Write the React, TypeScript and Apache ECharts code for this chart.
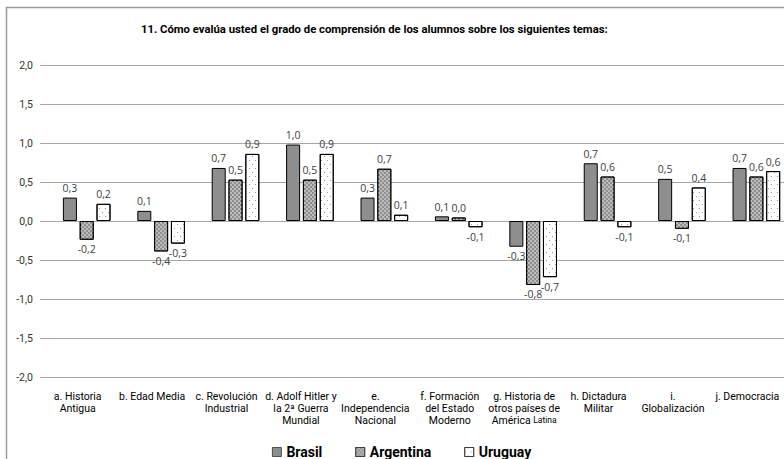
import React, { useEffect, useRef } from "react";
import * as echarts from "echarts";

const categories = [
  "a. Historia\nAntigua",
  "b. Edad Media",
  "c. Revolución\nIndustrial",
  "d. Adolf Hitler y\nla 2ª Guerra\nMundial",
  "e.\nIndependencia\nNacional",
  "f. Formación\ndel Estado\nModerno",
  "g. Historia de\notros países de\nAmérica {s|Latina}",
  "h. Dictadura\nMilitar",
  "i.\nGlobalización",
  "j. Democracia",
];

const brasil = [0.3, 0.13, 0.68, 0.98, 0.3, 0.06, -0.33, 0.74, 0.54, 0.68];
const argentina = [-0.24, -0.39, 0.53, 0.53, 0.67, 0.045, -0.82, 0.57, -0.1, 0.57];
const uruguay = [0.22, -0.29, 0.86, 0.86, 0.08, -0.08, -0.72, -0.08, 0.43, 0.64];

const yTicks = { min: -2, max: 2, interval: 0.5 };

const titleText =
  "11. Cómo evalúa usted el grado de comprensión de los alumnos sobre los siguientes temas:";

const condensed = "Roboto, 'Liberation Sans', sans-serif";
const labelFont = "'Open Sans', 'Noto Sans', sans-serif";

const fmt = (v: number) => v.toFixed(1).replace(".", ",").replace("-0,0", "0,0");

function mkData(arr: number[]) {
  return arr.map((v) => ({
    value: v,
    label: { position: v < 0 ? "bottom" : "top" },
  }));
}

export default function App() {
  const ref = useRef<HTMLDivElement>(null);
  useEffect(() => {
    if (!ref.current) return;
    const chart = echarts.init(ref.current, null, { renderer: "svg" });
    const labelCfg = {
      show: true,
      fontFamily: labelFont,
      fontSize: 10.5,
      color: "#404040",
      distance: 4,
      formatter: (p: any) => fmt(p.value),
    };
    const option = {
      animation: false,
      backgroundColor: "#ffffff",
      title: {
        text: titleText,
        left: 136,
        top: 19,
        textStyle: {
          fontFamily: condensed,
          fontSize: 11.3,
          fontWeight: "bold",
          color: "#000",
        },
      },
      legend: {
        left: 267,
        top: 440,
        itemWidth: 9,
        itemHeight: 9,
        itemGap: 33,
        icon: "rect",
        itemStyle: { borderWidth: 0.8, borderColor: "#333" },
        textStyle: {
          fontFamily: condensed,
          fontSize: 14,
          fontWeight: "bold",
          color: "#000",
        },
        data: ["Brasil", "Argentina", "Uruguay"],
      },
      grid: [
        { left: 40, right: 16, top: 65, bottom: 82 },
        { left: 49.5, right: 0.5, top: 65, bottom: 82 },
      ],
      xAxis: [
        {
          type: "category",
          gridIndex: 0,
          data: categories,
          show: false,
        },
        {
          type: "category",
          gridIndex: 1,
          data: categories,
          axisLine: { show: false, onZero: false },
          axisTick: { show: false },
          axisLabel: {
            interval: 0,
            margin: 13,
            padding: [0, 18, 0, 0],
            fontFamily: condensed,
            fontSize: 10.5,
            lineHeight: 12,
            color: "#000",
            rich: { s: { fontFamily: condensed, fontSize: 8.5, color: "#000" } },
          },
        },
      ],
      yAxis: [
        {
          type: "value",
          gridIndex: 0,
          min: yTicks.min,
          max: yTicks.max,
          interval: yTicks.interval,
          axisLine: { show: false },
          axisTick: { show: false },
          splitLine: { lineStyle: { color: "#a6a6a6", width: 1 } },
          axisLabel: {
            margin: 7,
            fontFamily: condensed,
            fontSize: 10.5,
            color: "#333",
            formatter: (v: number) => fmt(v),
          },
        },
        {
          type: "value",
          gridIndex: 1,
          min: yTicks.min,
          max: yTicks.max,
          interval: yTicks.interval,
          axisLine: { show: false },
          axisTick: { show: false },
          splitLine: { show: false },
          axisLabel: { show: false },
        },
      ],
      series: [
        {
          name: "Brasil",
          type: "bar",
          xAxisIndex: 1,
          yAxisIndex: 1,
          data: mkData(brasil),
          barGap: "20%",
          barCategoryGap: "36%",
          itemStyle: { color: "#8e8e8e", borderColor: "#000", borderWidth: 1 },
          label: labelCfg,
        },
        {
          name: "Argentina",
          type: "bar",
          xAxisIndex: 1,
          yAxisIndex: 1,
          data: mkData(argentina),
          itemStyle: {
            color: "#8f8f8f",
            borderColor: "#000",
            borderWidth: 1,
            decal: {
              symbol: "rect",
              symbolSize: 0.8,
              color: "#dadada",
              dashArrayX: [[2, 2], [0, 2, 2, 0]],
              dashArrayY: [2, 0],
              rotation: 0,
            },
          },
          label: labelCfg,
        },
        {
          name: "Uruguay",
          type: "bar",
          xAxisIndex: 1,
          yAxisIndex: 1,
          data: mkData(uruguay),
          itemStyle: {
            color: "#ffffff",
            borderColor: "#000",
            borderWidth: 1,
            decal: {
              symbol: "rect",
              symbolSize: 1,
              color: "#9a9a9a",
              dashArrayX: [[1, 5], [0, 3, 1, 2]],
              dashArrayY: [1, 3],
              rotation: 0,
            },
          },
          label: labelCfg,
        },
      ],
      graphic: [
        {
          type: "line",
          shape: { x1: 6, y1: 7.5, x2: 784, y2: 7.5 },
          style: { stroke: "#9a9a9a", lineWidth: 1.5 },
        },
        {
          type: "line",
          shape: { x1: 6.5, y1: 7, x2: 6.5, y2: 459 },
          style: { stroke: "#9a9a9a", lineWidth: 1.5 },
        },
      ],
    };
    chart.setOption(option as any);
    return () => chart.dispose();
  }, []);
  return (
    <div
      style={{
        position: "absolute",
        left: 0,
        top: 0,
        width: 784,
        height: 459,
        overflow: "hidden",
      }}
    >
      <div ref={ref} style={{ width: 800, height: 459 }} />
    </div>
  );
}
